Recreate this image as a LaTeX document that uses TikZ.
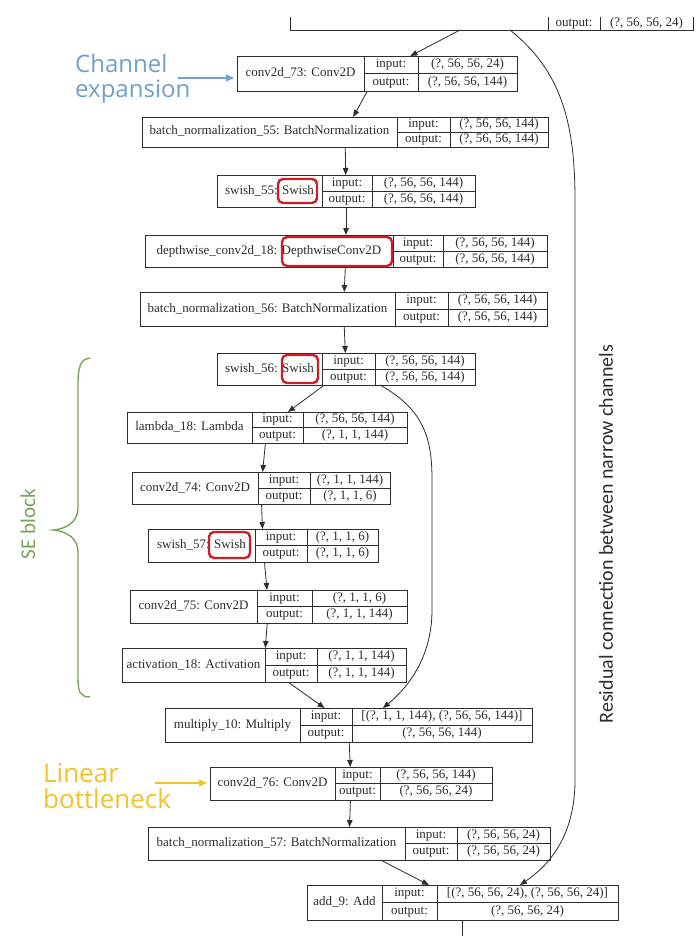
\documentclass[tikz,border=0pt]{standalone}
\usepackage{fontspec}
\setmainfont{Liberation Serif}
\newfontfamily\notefont{Open Sans}
\newfontfamily\sidefont{Carlito}
\usetikzlibrary{arrows.meta}

\definecolor{expblue}{RGB}{112,160,205}
\definecolor{bottleyellow}{RGB}{240,196,40}
\definecolor{segreen}{RGB}{120,165,90}
\definecolor{markred}{RGB}{205,30,40}
\definecolor{inkgray}{RGB}{45,45,45}

\tikzset{
  layer/.style={draw=inkgray, line width=0.8pt, rectangle, inner sep=0pt, outer sep=0pt},
  layerline/.style={draw=inkgray, line width=0.8pt},
  cell/.style={inner sep=0pt, font=\fontsize{13}{15}\selectfont, text=inkgray,
               text height=9pt, text depth=3pt},
  flow/.style={draw=inkgray, line width=0.8pt, -{Triangle[length=7pt,width=5.5pt]}},
  hilite/.style={draw=markred, line width=2.4pt, rounded corners=5pt},
  notearrow/.style={line width=1.3pt, -{Triangle[length=8pt,width=7pt]}, shorten >=3pt},
}

% One Keras layer record: name | input:/output: | shapes
% #1 id, #2 left, #3 top, #4 right, #5 bottom,
% #6 name/label divider, #7 label/value divider, #8 layer name, #9 input shape;
% the output shape follows as one more argument (read by \layerout)
\newcommand\layerbox[9]{%
  \def\lbid{#1}\def\lbt{#3}\def\lbr{#4}\def\lbb{#5}\def\lbc{#7}%
  \node[layer, minimum width={#4-#2}, minimum height={#5-#3}] (#1) at ({(#2+#4)/2},{(#3+#5)/2}) {};
  \draw[layerline] (#6,#3) -- (#6,#5);
  \draw[layerline] (#6,{(#3+#5)/2}) -- (#4,{(#3+#5)/2});
  \draw[layerline] (#7,#3) -- (#7,#5);
  \node[cell] (#1-name) at ({(#2+#6)/2},{(#3+#5)/2}) {#8};
  \node[cell] (#1-inl) at ({(#6+#7)/2},{(3*#3+#5)/4}) {input:};
  \node[cell] (#1-outl) at ({(#6+#7)/2},{(#3+3*#5)/4}) {output:};
  \node[cell] (#1-in) at ({(#7+#4)/2},{(3*#3+#5)/4}) {#9};
  \layerout}
\newcommand\layerout[1]{%
  \node[cell] (\lbid-out) at ({(\lbc+\lbr)/2},{(\lbt+3*\lbb)/4}) {#1};}

\begin{document}
\begin{tikzpicture}[x=1pt,y=-1pt]
\fill[white] (0,0) rectangle (699,936);
\useasboundingbox (0,0) rectangle (699,936);

% lower edge of the preceding layer record
\draw[layerline] (290,17) -- (290,30) -- (693,30) -- (693,17);
\draw[layerline] (548,17) -- (548,30);
\draw[layerline] (600,17) -- (600,30);
\node[cell] (prev-outl) at (574,23.5) {output:};
\node[cell] (prev-out) at (646.5,23.5) {(?, 56, 56, 24)};
\coordinate (prevmain) at (460,30);
\coordinate (prevskip) at (510,30);

% layer records
\layerbox{c73}{237}{56}{517}{91}{364}{418}{conv2d\_73: Conv2D}{(?, 56, 56, 24)}{(?, 56, 56, 144)}
\layerbox{bn55}{142}{117}{548}{147}{397}{450}{batch\_normalization\_55: BatchNormalization}{(?, 56, 56, 144)}{(?, 56, 56, 144)}
\layerbox{sw55}{217}{175}{475}{207}{322}{372}{swish\_55: Swish}{(?, 56, 56, 144)}{(?, 56, 56, 144)}
\layerbox{dw18}{145}{235}{547}{267}{393}{443}{depthwise\_conv2d\_18: DepthwiseConv2D}{(?, 56, 56, 144)}{(?, 56, 56, 144)}
\layerbox{bn56}{140}{292}{547}{326}{395}{448}{batch\_normalization\_56: BatchNormalization}{(?, 56, 56, 144)}{(?, 56, 56, 144)}
\layerbox{sw56}{217}{353}{475}{385}{322}{375}{swish\_56: Swish}{(?, 56, 56, 144)}{(?, 56, 56, 144)}
\layerbox{lam18}{127}{412}{407}{443}{252}{303}{lambda\_18: Lambda}{(?, 56, 56, 144)}{(?, 1, 1, 144)}
\layerbox{c74}{132}{472}{390}{504}{258}{310}{conv2d\_74: Conv2D}{(?, 1, 1, 144)}{(?, 1, 1, 6)}
\layerbox{sw57}{148}{529}{378}{562}{255}{307}{swish\_57: Swish}{(?, 1, 1, 6)}{(?, 1, 1, 6)}
\layerbox{c75}{130}{590}{407}{623}{257}{312}{conv2d\_75: Conv2D}{(?, 1, 1, 6)}{(?, 1, 1, 144)}
\layerbox{act18}{122}{648}{406}{682}{265}{317}{activation\_18: Activation}{(?, 1, 1, 144)}{(?, 1, 1, 144)}
\layerbox{mul10}{165}{708}{532}{742}{300}{352}{multiply\_10: Multiply}{[(?, 1, 1, 144), (?, 56, 56, 144)]}{(?, 56, 56, 144)}
\layerbox{c76}{210}{767}{492}{800}{335}{380}{conv2d\_76: Conv2D}{(?, 56, 56, 144)}{(?, 56, 56, 24)}
\layerbox{bn57}{148}{827}{550}{860}{405}{457}{batch\_normalization\_57: BatchNormalization}{(?, 56, 56, 24)}{(?, 56, 56, 24)}
\layerbox{add9}{307}{885}{618}{920}{382}{437}{add\_9: Add}{[(?, 56, 56, 24), (?, 56, 56, 24)]}{(?, 56, 56, 24)}

% highlighted activation types
\draw[hilite] (278,179) rectangle (317,203);
\draw[hilite] (282,237) rectangle (392,266);
\draw[hilite] (282,355) rectangle (318,383);
\draw[hilite] (209,532) rectangle (250,558);

% main data flow
\draw[flow] (prevmain) -- (c73);
\draw[flow] (c73) -- (bn55);
\draw[flow] (bn55) -- (sw55);
\draw[flow] (sw55) -- (dw18);
\draw[flow] (dw18) -- (bn56);
\draw[flow] (bn56) -- (sw56);
\draw[flow] (sw56) -- (lam18);
\draw[flow] (lam18) -- (c74);
\draw[flow] (c74) -- (sw57);
\draw[flow] (sw57) -- (c75);
\draw[flow] (c75) -- (act18);
\draw[flow] (act18) -- (mul10);
\draw[flow] (mul10) -- (c76);
\draw[flow] (c76) -- (bn57);
\draw[flow] (bn57) -- (add9);
\coordinate (next) at (462.5,945);
\draw[layerline] (add9) -- (next);

% squeeze-and-excitation bypass
\draw[flow] ([xshift=34pt]sw56.south) .. controls (425,410) and (432,440) .. (432,480)
  -- (432,610) .. controls (432,660) and (405,690) .. ([xshift=34.5pt]mul10.north);

% residual bypass
\draw[flow] (prevskip) .. controls (560,70) and (575,120) .. (575,200)
  -- (575,780) .. controls (575,840) and (545,868) .. ([xshift=57.5pt]add9.north);

% annotations
\node[anchor=base west, inner sep=0pt, text=expblue, font=\notefont\fontsize{24}{26}\selectfont] (chanA) at (75,73) {Channel};
\node[anchor=base west, inner sep=0pt, text=expblue, font=\notefont\fontsize{24}{26}\selectfont] (chanB) at (75,98) {expansion};
\coordinate (chanfrom) at (178,78);
\draw[notearrow, expblue] (chanfrom) -- (c73.west |- chanfrom);

\node[anchor=base west, inner sep=0pt, text=bottleyellow, font=\notefont\fontsize{26}{28}\selectfont] (linA) at (43,782) {Linear};
\node[anchor=base west, inner sep=0pt, text=bottleyellow, font=\notefont\fontsize{26}{28}\selectfont] (linB) at (43,808) {bottleneck};
\coordinate (linfrom) at (155,783);
\draw[notearrow, bottleyellow] (linfrom) -- (c76.west |- linfrom);

\draw[segreen, line width=1.4pt] (90,358) .. controls (80,359) and (78,368) .. (78,385)
  -- (78,508) .. controls (78,522) and (66,529) .. (53,530)
  .. controls (66,531) and (78,538) .. (78,552)
  -- (78,678) .. controls (78,692) and (80,697) .. (90,697);
\node[rotate=90, inner sep=0pt, text=segreen, font=\sidefont\fontsize{21}{24}\selectfont] (seblock) at (28,524) {SE block};

\node[rotate=90, inner sep=0pt, text=inkgray, font=\sidefont\fontsize{20}{24}\selectfont] (resid) at (606,534) {Residual connection between narrow channels};
\end{tikzpicture}
\end{document}
